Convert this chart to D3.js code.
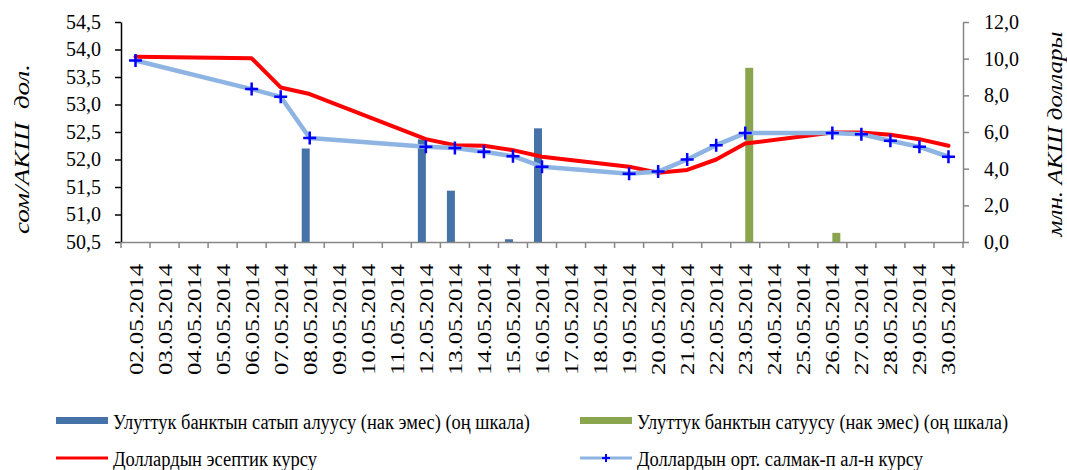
<!DOCTYPE html>
<html>
<head>
<meta charset="utf-8">
<script src="https://cdn.jsdelivr.net/npm/d3@7"></script>
<style>
  html, body { margin: 0; padding: 0; background: #fff; }
  svg { display: block; }
  text { font-family: "Liberation Serif", "Times New Roman", serif; fill: #000; }
</style>
</head>
<body>
<div id="chart"></div>
<script>
// ---------- DATA ----------
const categories = [
  "02.05.2014","03.05.2014","04.05.2014","05.05.2014","06.05.2014","07.05.2014",
  "08.05.2014","09.05.2014","10.05.2014","11.05.2014","12.05.2014","13.05.2014",
  "14.05.2014","15.05.2014","16.05.2014","17.05.2014","18.05.2014","19.05.2014",
  "20.05.2014","21.05.2014","22.05.2014","23.05.2014","24.05.2014","25.05.2014",
  "26.05.2014","27.05.2014","28.05.2014","29.05.2014","30.05.2014"
];
// National bank purchases (right scale, mln USD)
const nbPurchases = [null,null,null,null,null,null, 5.1,null,null,null, 5.6, 2.8,
                     null, 0.15, 6.2, null,null,null, null,null,null,null,null,null,
                     null,null,null,null,null];
// National bank sales (right scale, mln USD)
const nbSales =     [null,null,null,null,null,null, null,null,null,null, null,null,
                     null,null,null,null,null,null, null,null,null, 9.5, null,null,
                     0.5, null,null,null,null];
// Official USD rate (left scale)
const officialRate = [53.87,null,null,null,53.84,53.31, 53.19,null,null,null,52.37,52.26,
                      52.25,52.17,52.05,null,null,51.87, 51.76,51.81,52.00,52.29,null,null,
                      52.49,52.49,52.45,52.37,52.25];
// Weighted average USD rate (left scale)
const weightedRate = [53.80,null,null,null,53.28,53.14, 52.39,null,null,null,52.23,52.21,
                      52.14,52.06,51.87,null,null,51.74, 51.78,52.00,52.26,52.48,null,null,
                      52.48,52.46,52.34,52.23,52.05];

const leftTicks  = [50.5, 51.0, 51.5, 52.0, 52.5, 53.0, 53.5, 54.0, 54.5];
const rightTicks = [0, 2, 4, 6, 8, 10, 12];

const leftTitle  = "сом/АКШ  дол.";
const rightTitle = "млн. АКШ доллары";
const legendLabels = [
  "Улуттук банктын сатып алуусу (нак эмес) (оң шкала)",
  "Улуттук банктын сатуусу (нак эмес) (оң шкала)",
  "Доллардын эсептик курсу",
  "Доллардын орт. салмак-п ал-н курсу"
];

// ---------- STYLE ----------
const W = 1067, H = 470;
const plot = { left: 121, right: 963, top: 22, bottom: 242 };
const colBuy = "#4572A7", colSell = "#89A54E", colRed = "#FF0000",
      colLight = "#8EB4E3", colMarker = "#0000FF", colAxis = "#868686";

const svg = d3.select("#chart").append("svg").attr("width", W).attr("height", H);

const x = d3.scaleBand().domain(categories).range([plot.left, plot.right]).paddingInner(0).paddingOuter(0);
const sub = d3.scaleBand().domain(["buy", "sell"]).range([-8, 8]);
const yL = d3.scaleLinear().domain([50.5, 54.5]).range([plot.bottom, plot.top]);
const yR = d3.scaleLinear().domain([0, 12]).range([plot.bottom, plot.top]);
const cx = c => x(c) + x.bandwidth() / 2;
const fmt = d => d3.format(".1f")(d).replace(".", ",");

// ---------- BARS ----------
function drawBars(arr, key, color) {
  const data = categories.map((c, i) => ({ c, v: arr[i] })).filter(d => d.v != null);
  svg.append("g").selectAll("rect").data(data).join("rect")
    .attr("x", d => cx(d.c) + sub(key))
    .attr("width", sub.bandwidth())
    .attr("y", d => yR(d.v))
    .attr("height", d => yR(0) - yR(d.v))
    .attr("fill", color);
}
drawBars(nbPurchases, "buy", colBuy);
drawBars(nbSales, "sell", colSell);

// ---------- AXES ----------
const gL = svg.append("g").attr("transform", `translate(${plot.left},0)`)
  .call(d3.axisLeft(yL).tickValues(leftTicks).tickSize(6).tickSizeOuter(0).tickPadding(14).tickFormat(fmt));
gL.select(".domain").attr("stroke", "#000").attr("stroke-width", 1.5);
gL.selectAll(".tick line").attr("stroke", "#000").attr("stroke-width", 1.5);
gL.selectAll(".tick text").attr("font-family", "Liberation Serif").attr("font-size", 20).attr("fill", "#000");

const gR = svg.append("g").attr("transform", `translate(${plot.right},0)`)
  .call(d3.axisRight(yR).tickValues(rightTicks).tickSize(6).tickSizeOuter(0).tickPadding(15).tickFormat(fmt));
gR.select(".domain").attr("stroke", colAxis).attr("stroke-width", 1.5);
gR.selectAll(".tick line").attr("stroke", colAxis).attr("stroke-width", 1.5);
gR.selectAll(".tick text").attr("font-family", "Liberation Serif").attr("font-size", 20).attr("fill", "#000");

const gB = svg.append("g").attr("transform", `translate(0,${plot.bottom})`)
  .call(d3.axisBottom(x).tickSize(0).tickSizeOuter(0));
gB.select(".domain").attr("stroke", colAxis).attr("stroke-width", 1.5);
gB.selectAll(".tick text")
  .attr("font-family", "Liberation Serif").attr("font-size", 19).attr("fill", "#000")
  .attr("transform", "rotate(-90)")
  .attr("x", -22).attr("y", 7).attr("dy", 0)
  .attr("text-anchor", "end")
  .attr("textLength", 111).attr("lengthAdjust", "spacingAndGlyphs");
// boundary tick marks
gB.append("g").selectAll("line")
  .data(d3.range(categories.length + 1))
  .join("line")
  .attr("x1", i => x.range()[0] + i * x.step())
  .attr("x2", i => x.range()[0] + i * x.step())
  .attr("y1", 0).attr("y2", 6)
  .attr("stroke", colAxis).attr("stroke-width", 1.5);

// ---------- LINES ----------
function drawLine(arr, color, width) {
  const data = categories.map((c, i) => ({ c, v: arr[i] })).filter(d => d.v != null);
  svg.append("path").datum(data)
    .attr("fill", "none").attr("stroke", color).attr("stroke-width", width)
    .attr("stroke-linejoin", "round").attr("stroke-linecap", "round")
    .attr("d", d3.line().x(d => cx(d.c)).y(d => yL(d.v)).curve(d3.curveLinear));
  return data;
}
drawLine(officialRate, colRed, 4);
const wData = drawLine(weightedRate, colLight, 4.5);
const plus = "M-6.5,0H6.5M0,-6.5V6.5";
svg.append("g").selectAll("path").data(wData).join("path")
  .attr("transform", d => `translate(${cx(d.c)},${yL(d.v)})`)
  .attr("d", plus).attr("stroke", colMarker).attr("stroke-width", 2.5).attr("fill", "none");

// ---------- AXIS TITLES ----------
svg.append("text")
  .attr("transform", `translate(29,${(plot.top + plot.bottom) / 2 + 17}) rotate(-90)`)
  .attr("text-anchor", "middle").attr("font-style", "italic").attr("font-size", 20)
  .style("white-space", "pre")
  .attr("textLength", 170).attr("lengthAdjust", "spacingAndGlyphs")
  .text(leftTitle);
svg.append("text")
  .attr("transform", `translate(1062,${(plot.top + plot.bottom) / 2 + 2}) rotate(-90)`)
  .attr("text-anchor", "middle").attr("font-style", "italic").attr("font-size", 20)
  .attr("textLength", 205).attr("lengthAdjust", "spacingAndGlyphs")
  .text(rightTitle);

// ---------- LEGEND ----------
const legendPos = [
  { x: 56, y: 421, type: "bar", color: colBuy, len: 417 },
  { x: 580, y: 421, type: "bar", color: colSell, len: 371 },
  { x: 56, y: 458, type: "line", color: colRed, len: 204 },
  { x: 580, y: 458, type: "marker", color: colLight, len: 286 }
];
const lg = svg.append("g").selectAll("g").data(legendPos).join("g")
  .attr("transform", d => `translate(${d.x},${d.y})`);
lg.filter(d => d.type === "bar").append("rect")
  .attr("x", 0).attr("y", -4).attr("width", 52).attr("height", 7).attr("fill", d => d.color);
lg.filter(d => d.type !== "bar").append("line")
  .attr("x1", 0).attr("x2", 52).attr("y1", 0).attr("y2", 0)
  .attr("stroke", d => d.color).attr("stroke-width", 3);
lg.filter(d => d.type === "marker").append("path")
  .attr("transform", "translate(26,0)").attr("d", "M-4,0H4M0,-4V4")
  .attr("stroke", colMarker).attr("stroke-width", 2);
lg.append("text")
  .attr("x", 57).attr("y", 8)
  .attr("font-size", 20)
  .attr("textLength", d => d.len).attr("lengthAdjust", "spacingAndGlyphs")
  .text((d, i) => legendLabels[i]);
</script>
</body>
</html>
